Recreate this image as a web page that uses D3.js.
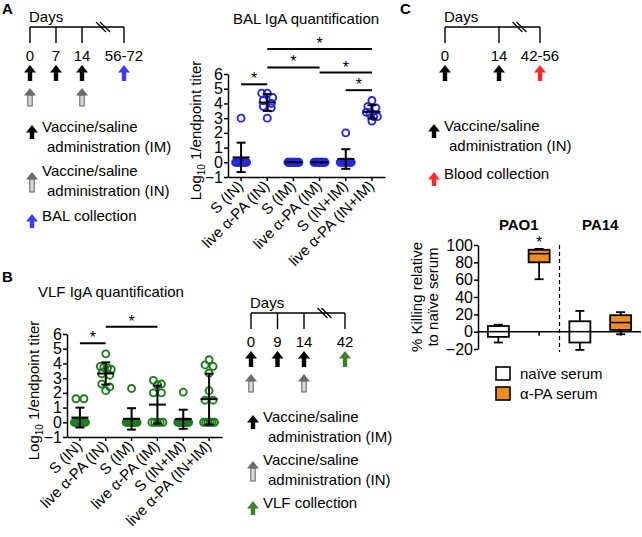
<!DOCTYPE html>
<html><head><meta charset="utf-8">
<script src="https://cdn.jsdelivr.net/npm/d3@7"></script>
<style>
body{margin:0;background:#fff}
svg{display:block}
text{font-family:"Liberation Sans",Arial,Helvetica,sans-serif;fill:#000}
</style>
</head><body>
<svg id="c" width="642" height="537"></svg>
<script>
// ---------------- DATA ----------------
const groups = ["S (IN)", "live α-PA (IN)", "S (IM)", "live α-PA (IM)", "S (IN+IM)", "live α-PA (IN+IM)"];
const titerTicks = [-1, 0, 1, 2, 3, 4, 5, 6];

// BAL IgA (log10 1/endpoint titer)
const balSIN      = [3.0, 0, 0, 0, 0, 0, 0, 0, 0];
const balLiveIN   = [4.7, 4.7, 4.4, 4.2, 4.0, 3.8, 3.7, 3.0];
const balSIM      = [0, 0, 0, 0, 0, 0, 0, 0, 0];
const balLiveIM   = [0, 0, 0, 0, 0, 0, 0, 0, 0];
const balSINIM    = [2.0, 0, 0, 0, 0, 0, 0, 0, 0];
const balLiveINIM = [4.2, 3.8, 3.7, 3.4, 3.3, 3.1, 3.1, 2.8];
const balSigPairs = [[0, 1], [1, 3], [1, 5], [3, 5], [4, 5]];

// VLF IgA
const vlfSIN      = [1.6, 1.6, 0, 0, 0, 0, 0, 0, 0, 0];
const vlfLiveIN   = [4.65, 3.8, 3.75, 3.7, 3.6, 3.3, 3.2, 2.6, 2.4, 2.15];
const vlfSIM      = [2.3, 0, 0, 0, 0, 0, 0, 0, 0, 0];
const vlfLiveIM   = [2.85, 2.6, 2.55, 2.0, 2.0, 0, 0, 0, 0, 0];
const vlfSINIM    = [2.05, 0, 0, 0, 0, 0, 0, 0, 0, 0];
const vlfLiveINIM = [4.25, 3.9, 3.8, 3.35, 2.15, 1.5, 1.5, 0, 0, 0, 0, 0, 0];
const vlfSigPairs = [[0, 1], [1, 3]];

// Killing (% relative to naive serum): [min, q1, median, q3, max] for PAO1, PA14
const strains = ["PAO1", "PA14"];
const sera = ["naïve serum", "α-PA serum"];
const naiveBox = [[-12.5, -6, 0, 6.5, 8], [-21, -12.5, 0, 12, 24]];
const alphaBox = [[60.5, 80, 90, 94.5, 95.5], [-3, 2, 10.5, 19, 22.5]];
const killTicks = [-20, 0, 20, 40, 60, 80, 100];

// Timelines
const daysA = ["0", "7", "14", "56-72"], imA = ["0", "7", "14"], inA = ["0", "14"];
const daysB = ["0", "9", "14", "42"],    imB = ["0", "9", "14"], inB = ["0", "14"];
const daysC = ["0", "14", "42-56"],      imC = ["0", "14"],      inC = [];

// ---------------- DRAW ----------------
const svg = d3.select("#c");
const FONT = '"Liberation Sans",Arial,Helvetica,sans-serif';
const BLUE = "#2424d8", GREEN = "#1c7a1c", ORANGE = "#f08a24";
const GREY = "#6b6b6b";

function txt(g, x, y, s, size, opts = {}) {
  const t = g.append("text").attr("x", x).attr("y", y).attr("font-size", size)
    .attr("text-anchor", opts.anchor || "start");
  if (opts.bold) t.attr("font-weight", "bold");
  if (opts.transform) t.attr("transform", opts.transform);
  t.text(s);
  return t;
}

function arrow(g, x, yTop, h, color, type) {
  const hw = 6, hh = 7.5, sw = 2.2;
  if (type === "double") {
    g.append("rect").attr("x", x - sw).attr("y", yTop + hh - 0.5).attr("width", sw * 2)
      .attr("height", h - hh + 0.5).attr("fill", "#d9d9d9").attr("stroke", color).attr("stroke-width", 1.1);
    g.append("path").attr("d", `M${x},${yTop}L${x + hw},${yTop + hh}L${x - hw},${yTop + hh}Z`).attr("fill", color);
  } else {
    g.append("path").attr("d",
      `M${x},${yTop}L${x + hw},${yTop + hh}L${x + sw},${yTop + hh}L${x + sw},${yTop + h}L${x - sw},${yTop + h}L${x - sw},${yTop + hh}L${x - hw},${yTop + hh}Z`)
      .attr("fill", color);
  }
}

function timeline(cfg) {
  const g = svg.append("g");
  const pre = cfg.days.slice(0, -1), last = cfg.days[cfg.days.length - 1];
  const sx = d3.scalePoint().domain(pre).range([cfg.x0, cfg.x0 + cfg.step * (pre.length - 1)]);
  const pos = d => d === last ? cfg.xEnd : sx(d);
  const L = cfg.y;
  txt(g, cfg.x0 - 1, L - 5, "Days", 15);
  g.append("line").attr("x1", cfg.x0).attr("x2", cfg.xEnd).attr("y1", L).attr("y2", L)
    .attr("stroke", "#000").attr("stroke-width", 1.4);
  cfg.days.forEach(d => {
    g.append("line").attr("x1", pos(d)).attr("x2", pos(d)).attr("y1", L).attr("y2", L + 16)
      .attr("stroke", "#000").attr("stroke-width", 1.4);
    txt(g, pos(d), L + 34, d, 15, {anchor: "middle"});
  });
  const xb = (sx(pre[pre.length - 1]) + cfg.xEnd) / 2;
  [-2, 2].forEach(dx => g.append("line").attr("x1", xb + dx - 5).attr("y1", L - 5)
    .attr("x2", xb + dx + 5).attr("y2", L + 5).attr("stroke", "#000").attr("stroke-width", 1.2));
  cfg.im.forEach(d => arrow(g, pos(d), L + 38, 16, "#000", "solid"));
  cfg.inn.forEach(d => arrow(g, pos(d), L + 61, 18, GREY, "double"));
  arrow(g, cfg.xEnd, L + 38, 16, cfg.color, "solid");
}

timeline({days: daysA, im: imA, inn: inA, x0: 30, step: 26, xEnd: 124, y: 27, color: "#3b3bff"});
timeline({days: daysB, im: imB, inn: inB, x0: 251, step: 26.5, xEnd: 345, y: 313, color: "#3f8030"});
timeline({days: daysC, im: imC, inn: inC, x0: 445, step: 54, xEnd: 540, y: 27, color: "#ff2a2a"});

function legendBlock(x, rows) {
  const g = svg.append("g");
  rows.forEach(r => {
    if (r.type === "double") arrow(g, x, r.b - 4, 20, r.color, "double");
    else arrow(g, x, r.b - 7, 14, r.color, "solid");
    txt(g, x + 10, r.b, r.l1, 15);
    if (r.l2) txt(g, x + 15, r.b + 20, r.l2, 15);
  });
}
legendBlock(32, [
  {b: 132, color: "#000", type: "solid", l1: "Vaccine/saline", l2: "administration (IM)"},
  {b: 176, color: GREY, type: "double", l1: "Vaccine/saline", l2: "administration (IN)"},
  {b: 221, color: "#3b3bff", type: "solid", l1: "BAL collection"}
]);
legendBlock(253, [
  {b: 422, color: "#000", type: "solid", l1: "Vaccine/saline", l2: "administration (IM)"},
  {b: 465, color: GREY, type: "double", l1: "Vaccine/saline", l2: "administration (IN)"},
  {b: 508, color: "#3f8030", type: "solid", l1: "VLF collection"}
]);
legendBlock(434, [
  {b: 131, color: "#000", type: "solid", l1: "Vaccine/saline", l2: " administration (IN)"},
  {b: 179, color: "#ff2a2a", type: "solid", l1: "Blood collection"}
]);

// panel letters
txt(svg, 2, 14, "A", 15, {bold: true});
txt(svg, 2, 282, "B", 15, {bold: true});
txt(svg, 400, 14, "C", 15, {bold: true});

// ---------- scatter panels ----------
function spread(vals) {
  const s = vals.slice().sort((a, b) => b - a);
  const rows = [];
  s.forEach(v => {
    const r = rows[rows.length - 1];
    if (r && Math.abs(r[0] - v) <= 0.3) r.push(v); else rows.push([v]);
  });
  const out = [];
  rows.forEach(r => {
    const n = r.length, sp = n === 1 ? 0 : Math.min(8, 11 / (n - 1));
    r.forEach((v, i) => out.push({v, dx: (i - (n - 1) / 2) * sp}));
  });
  return out;
}

function scatterPanel(cfg) {
  const g = svg.append("g");
  const x = d3.scaleBand().domain(groups).range([cfg.x0, cfg.x1]);
  const y = d3.scaleLinear().domain([-1, 6]).range([cfg.yBot, cfg.yTop]);
  const cx = d => x(d) + x.bandwidth() / 2;

  // axes
  const ya = g.append("g").attr("transform", `translate(${cfg.x0},0)`)
    .call(d3.axisLeft(y).tickValues(titerTicks).tickFormat(d3.format("d")).tickSize(4).tickSizeOuter(0).tickPadding(1));
  ya.attr("font-size", 16).attr("font-family", FONT);
  const xa = g.append("g").attr("transform", `translate(0,${cfg.yBot})`)
    .call(d3.axisBottom(x).tickSize(4).tickSizeOuter(0));
  xa.attr("font-size", 15).attr("font-family", FONT);
  xa.selectAll("text").attr("x", 0).attr("y", 0).attr("dy", 0)
    .attr("transform", "translate(3,10) rotate(-45)").style("text-anchor", "end");
  g.selectAll(".domain, .tick line").attr("stroke", "#000").attr("stroke-width", 1.5);

  // points
  cfg.data.forEach((vals, i) => {
    const grp = groups[i];
    g.append("g").selectAll("circle").data(spread(vals)).join("circle")
      .attr("cx", d => cx(grp) + d.dx).attr("cy", d => y(d.v)).attr("r", 3.5)
      .attr("fill", "none").attr("stroke", cfg.color).attr("stroke-width", 1.9);
  });
  // mean +/- SD
  cfg.data.forEach((vals, i) => {
    const grp = groups[i], m = d3.mean(vals), sd = d3.deviation(vals) || 0;
    const c = cx(grp);
    const lg = g.append("g").attr("stroke", "#000").attr("stroke-width", 2);
    lg.append("line").attr("x1", c - 8.5).attr("x2", c + 8.5).attr("y1", y(m)).attr("y2", y(m));
    if (sd > 0) {
      lg.append("line").attr("x1", c).attr("x2", c).attr("y1", y(m - sd)).attr("y2", y(m + sd));
      [m - sd, m + sd].forEach(v => lg.append("line").attr("x1", c - 4.5).attr("x2", c + 4.5)
        .attr("y1", y(v)).attr("y2", y(v)));
    }
  });
  // significance
  cfg.sig.forEach((p, k) => {
    const yy = y(cfg.sigLevels[k]);
    g.append("line").attr("x1", cx(groups[p[0]])).attr("x2", cx(groups[p[1]]))
      .attr("y1", yy).attr("y2", yy).attr("stroke", "#000").attr("stroke-width", 2);
    txt(g, (cx(groups[p[0]]) + cx(groups[p[1]])) / 2, yy, "*", 16, {anchor: "middle"});
  });

  // title & y-label
  txt(g, cfg.titleX, cfg.titleY, cfg.title, 15, {anchor: cfg.titleAnchor});
  const yl = g.append("text").attr("font-size", 15).attr("text-anchor", "middle")
    .attr("transform", `translate(${cfg.ylabX},${(cfg.yTop + cfg.yBot) / 2 + 5}) rotate(-90)`);
  yl.append("tspan").text("Log");
  yl.append("tspan").attr("font-size", 10).attr("dy", 4).text("10");
  yl.append("tspan").attr("dy", -4).text(" 1/endpoint titer");
}

scatterPanel({
  data: [balSIN, balLiveIN, balSIM, balLiveIM, balSINIM, balLiveINIM],
  x0: 228, x1: 385, yBot: 177, yTop: 74, color: BLUE,
  sig: balSigPairs, sigLevels: [5.3, 6.45, 7.7, 6.1, 4.9],
  title: "BAL IgA quantification", titleX: 306, titleY: 24, titleAnchor: "middle", ylabX: 201
});
scatterPanel({
  data: [vlfSIN, vlfLiveIN, vlfSIM, vlfLiveIM, vlfSINIM, vlfLiveINIM],
  x0: 67, x1: 222, yBot: 437, yTop: 334, color: GREEN,
  sig: vlfSigPairs, sigLevels: [5.37, 6.5],
  title: "VLF IgA quantification", titleX: 38, titleY: 297, titleAnchor: "start", ylabX: 39
});

// ---------- box panel C ----------
(function () {
  const g = svg.append("g");
  const x0 = d3.scaleBand().domain(strains).range([478, 641]);
  const x1 = d3.scaleBand().domain(sera).range([0, x0.bandwidth()]);
  const y = d3.scaleLinear().domain([-20, 100]).range([349, 245]);
  const cx = (s, r) => x0(s) + x1(r) + x1.bandwidth() / 2;

  const ya = g.append("g").attr("transform", "translate(478,0)")
    .call(d3.axisLeft(y).tickValues(killTicks).tickSize(4).tickSizeOuter(0).tickPadding(1));
  ya.attr("font-size", 16).attr("font-family", FONT);
  ya.selectAll(".domain, .tick line").attr("stroke", "#000").attr("stroke-width", 1.5);

  // zero axis
  g.append("line").attr("x1", 478).attr("x2", 641).attr("y1", y(0)).attr("y2", y(0))
    .attr("stroke", "#000").attr("stroke-width", 1.5);
  strains.forEach(s => sera.forEach(r => g.append("line").attr("x1", cx(s, r)).attr("x2", cx(s, r))
    .attr("y1", y(0)).attr("y2", y(0) + 4).attr("stroke", "#000").attr("stroke-width", 1.5)));

  // divider
  g.append("line").attr("x1", x0("PA14")).attr("x2", x0("PA14")).attr("y1", y(100)).attr("y2", y(-20) + 3)
    .attr("stroke", "#000").attr("stroke-width", 1.2).attr("stroke-dasharray", "4,3");

  const bw = 21;
  const boxes = [];
  strains.forEach((s, i) => {
    boxes.push({s, r: sera[0], st: naiveBox[i], fill: "#fff"});
    boxes.push({s, r: sera[1], st: alphaBox[i], fill: ORANGE});
  });
  boxes.forEach(b => {
    const c = cx(b.s, b.r), [mn, q1, md, q3, mx] = b.st;
    const bg = g.append("g").attr("stroke", "#000").attr("stroke-width", 1.8);
    bg.append("line").attr("x1", c).attr("x2", c).attr("y1", y(mx)).attr("y2", y(mn));
    [mn, mx].forEach(v => bg.append("line").attr("x1", c - 4.5).attr("x2", c + 4.5).attr("y1", y(v)).attr("y2", y(v)));
    bg.append("rect").attr("x", c - bw / 2).attr("y", y(q3)).attr("width", bw).attr("height", y(q1) - y(q3))
      .attr("fill", b.fill);
    bg.append("line").attr("x1", c - bw / 2).attr("x2", c + bw / 2).attr("y1", y(md)).attr("y2", y(md))
      .attr("stroke-width", 1.5);
  });

  strains.forEach(s => txt(g, x0(s) + x0.bandwidth() / 2, 230, s, 15, {anchor: "middle", bold: true}));
  txt(g, cx("PAO1", sera[1]), y(alphaBox[0][4]) - 1, "*", 16, {anchor: "middle"});

  const yl = g.append("text").attr("font-size", 15).attr("text-anchor", "middle")
    .attr("transform", `translate(0,${(y(100) + y(-20)) / 2}) rotate(-90)`);
  yl.append("tspan").attr("x", 0).attr("y", 422).text("% Killing relative");
  yl.append("tspan").attr("x", 0).attr("y", 438).text("to naïve serum");

  // legend
  const lg = g.append("g");
  sera.forEach((r, i) => {
    const yy = 367 + i * 20;
    lg.append("rect").attr("x", 496).attr("y", yy).attr("width", 14).attr("height", 13)
      .attr("fill", i ? ORANGE : "#fff").attr("stroke", "#000").attr("stroke-width", 1.6);
    txt(lg, 520, yy + 12, r, 15);
  });
})();
</script>
</body></html>
